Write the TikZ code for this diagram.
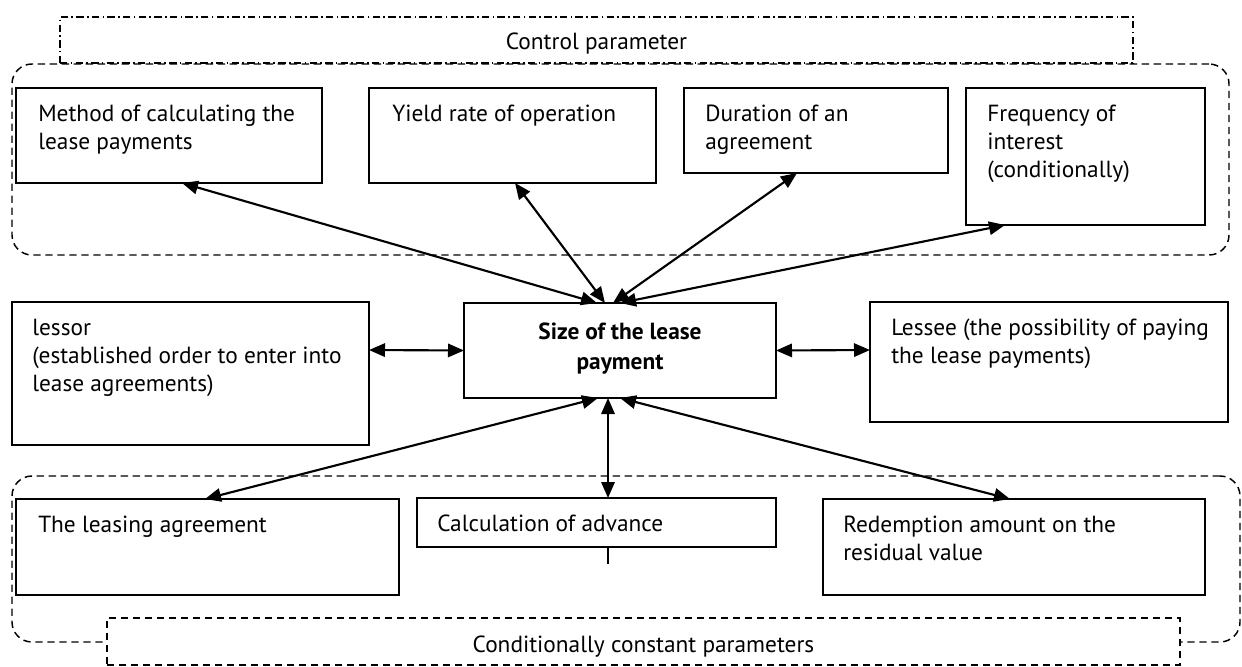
\documentclass[tikz,border=0pt]{standalone}
\usepackage{fontspec}
\setmainfont{PT Sans}
\usetikzlibrary{arrows.meta,calc,fit}
\begin{document}
\begin{tikzpicture}[x=0.75pt,y=-0.75pt,
  box/.style={draw,line width=1.4pt,inner sep=0pt,outer sep=0pt},
  grp/.style={draw,line width=1.1pt,dash pattern=on 5.5pt off 3.5pt,inner sep=0pt,outer sep=0pt,rounded corners=15pt},
  dashbox/.style={draw,line width=1.1pt,dash pattern=on 5.5pt off 3.5pt,inner sep=0pt,outer sep=0pt},
  dotbox/.style={draw,line width=1.1pt,dash pattern=on 5.5pt off 2.5pt on 1.2pt off 2.5pt,inner sep=0pt,outer sep=0pt},
  txt/.style={font=\fontsize{17.5}{21}\selectfont,align=left,inner sep=0pt,anchor=north west},
  ctxt/.style={font=\fontsize{17.5}{21}\selectfont,inner sep=0pt,anchor=base},
  link/.style={line width=1.6pt,{Triangle[length=12pt,width=10pt]}-{Triangle[length=12pt,width=10pt]}},
]
\useasboundingbox (0,0) rectangle (1242,667);

% groups
\node[dotbox, fit={(60,17) (1133,63)}] (ctrl) {};
\node[grp, fit={(12,64) (1229,255)}] (topgrp) {};
\node[grp, fit={(12,476) (1240,642)}] (botgrp) {};
\node[dashbox, fill=white, fit={(107,618) (1180,665)}] (cond) {};
\node[ctxt] (ctrlt) at ($(ctrl.south)+(0,-13)$) {Control parameter};
\node[ctxt] (condt) at ($(cond.south)+(0,-13)$) {Conditionally constant parameters};

% boxes
\node[box, fit={(16,88) (322,183)}] (method) {};
\node[box, fit={(369,88) (656,183)}] (yield) {};
\node[box, fit={(684,88) (948,173)}] (dur) {};
\node[box, fit={(966,88) (1205,225)}] (freq) {};
\node[box, fit={(12,302) (369,445)}] (lessor) {};
\node[box, fit={(464,303) (776,398)}] (center) {};
\node[box, fit={(870,302) (1228,422)}] (lessee) {};
\node[box, fit={(16,499) (399,595)}] (leasing) {};
\node[box, fit={(417,498) (776,547)}] (calc) {};
\node[box, fit={(823,499) (1205,595)}] (redemp) {};

% texts
\node[txt] (methodt) at ($(method.north west)+(22,17)$) {Method of calculating the\\lease payments};
\node[txt] (yieldt) at ($(yield.north west)+(23,17)$) {Yield rate of operation};
\node[txt] (durt) at ($(dur.north west)+(21,17)$) {Duration of an\\agreement};
\node[txt] (freqt) at ($(freq.north west)+(21,17)$) {Frequency of\\interest\\(conditionally)};
\node[txt] (lessort) at ($(lessor.north west)+(20,17)$) {lessor\\(established order to enter into\\lease agreements)};
\node[txt] (lesseet) at ($(lessee.north west)+(21,17)$) {Lessee (the possibility of paying\\the lease payments)};
\node[txt] (leasingt) at ($(leasing.north west)+(22,17)$) {The leasing agreement};
\node[txt] (calct) at ($(calc.north west)+(20,17)$) {Calculation of advance};
\node[txt] (redempt) at ($(redemp.north west)+(20,17)$) {Redemption amount on the\\residual value};
\node[font=\bfseries\fontsize{17.5}{22.5}\selectfont, align=center, inner sep=0pt] (centert) at ($(center)+(0,-2)$) {Size of the lease\\payment};

% connectors
\draw[link] ($(center.north west)+(133,0)$) -- ($(method.south west)+(166,0)$);
\draw[link] ($(center.north west)+(141,0)$) -- ($(yield.south west)+(146,0)$);
\draw[link] ($(center.north west)+(149,0)$) -- ($(dur.south west)+(113,0)$);
\draw[link] ($(center.north west)+(156,0)$) -- ($(freq.south west)+(39,0)$);
\draw[link] ($(lessor.north east)+(0,48)$) -- (center.west);
\draw[link] (center.east) -- ($(lessee.north west)+(0,48)$);
\draw[link] ($(center.south west)+(134,0)$) -- ($(leasing.north west)+(189,0)$);
\draw[link] ($(center.south west)+(144,0)$) -- ($(calc.north west)+(191,0)$);
\draw[link] ($(center.south west)+(156,0)$) -- ($(redemp.north west)+(187,0)$);
\coordinate (tick) at ($(calc.south west)+(191,17)$);
\draw[line width=1.4pt] ($(calc.south west)+(191,0)$) -- (tick);
\end{tikzpicture}
\end{document}
